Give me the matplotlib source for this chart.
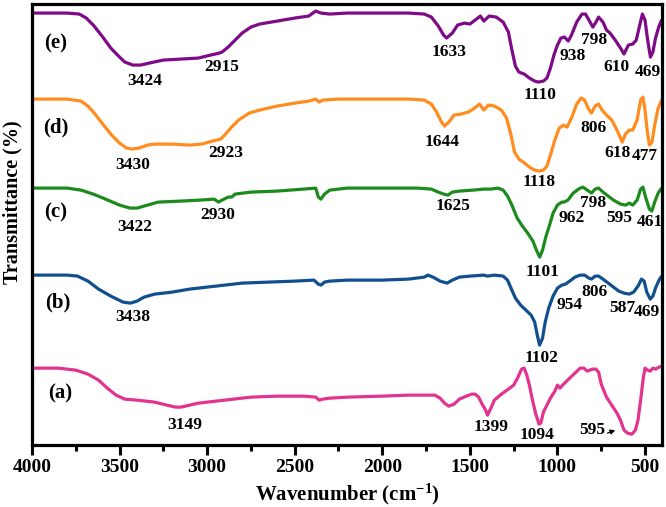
import matplotlib
matplotlib.use("Agg")
import matplotlib.pyplot as plt
from matplotlib.ticker import MultipleLocator

plt.rcParams['font.family'] = ['Liberation Serif', 'DejaVu Serif']
plt.rcParams['font.weight'] = 'bold'
plt.rcParams['mathtext.fontset'] = 'custom'
plt.rcParams['mathtext.rm'] = 'Liberation Serif:bold'
plt.rcParams['mathtext.bf'] = 'Liberation Serif:bold'
plt.rcParams['mathtext.default'] = 'bf'

# ---- spectra (wavenumber, transmittance a.u., already stacked) ----
wn_e = [4000, 3800, 3730, 3690, 3650, 3600, 3550, 3500, 3470, 3424, 3380, 3330, 3250, 3150, 3050, 2980,
        2930, 2915, 2880, 2840, 2800, 2750, 2700, 2600, 2500, 2420, 2380, 2350, 2300, 2200, 2000, 1850,
        1760, 1720, 1680, 1650, 1633, 1600, 1570, 1530, 1500, 1470, 1440, 1420, 1390, 1350, 1310, 1280,
        1260, 1240, 1220, 1190, 1160, 1130, 1110, 1080, 1060, 1040, 1020, 1000, 980, 960, 938, 920, 890,
        860, 840, 820, 798, 780, 765, 740, 720, 700, 670, 640, 620, 595, 570, 550, 530, 515, 500, 485,
        469, 455, 440, 420, 405]
t_e = [437, 437, 436, 432, 425, 414, 402, 393, 388, 385, 385, 387, 390, 391, 392, 395,
       397, 398, 403, 410, 417, 423, 426, 429, 432, 434, 439, 437, 436, 437, 437, 437,
       436, 433, 424, 415, 412, 417, 425, 427, 426, 430, 434, 429, 434, 433, 428, 418,
       400, 384, 378, 376, 372, 369, 368, 369, 372, 382, 395, 405, 412, 413, 409, 415, 428,
       436, 436, 430, 423, 428, 433, 428, 420, 417, 410, 402, 396, 405, 406, 410, 425, 436, 430, 410,
       393, 398, 412, 424, 430]

wn_d = [4000, 3800, 3720, 3680, 3640, 3600, 3550, 3500, 3460, 3430, 3390, 3340, 3300, 3200, 3100, 3030,
        2970, 2923, 2900, 2860, 2820, 2760, 2700, 2600, 2500, 2420, 2380, 2360, 2340, 2250, 2000, 1850,
        1760, 1720, 1690, 1665, 1644, 1620, 1590, 1550, 1510, 1480, 1445, 1420, 1395, 1360, 1320, 1290,
        1265, 1245, 1220, 1195, 1160, 1130, 1105, 1080, 1060, 1040, 1015, 990, 965, 945, 920, 890, 865,
        845, 825, 806, 785, 765, 745, 720, 690, 660, 630, 612, 590, 570, 545, 525, 512, 500, 488, 475,
        460, 445, 425, 405]
t_d = [351, 351, 349, 344, 336, 327, 316, 307, 302, 301, 302, 305, 306, 306, 305, 306,
       309, 311, 315, 323, 330, 337, 340, 344, 347, 349, 351, 348, 350, 351, 351, 351,
       350, 346, 338, 329, 324, 328, 335, 336, 338, 341, 346, 340, 345, 344, 340, 332,
       315, 298, 291, 288, 283, 280, 279, 280, 284, 295, 310, 322, 325, 323, 332, 346, 352,
       350, 342, 337, 344, 346, 340, 335, 330, 320, 308, 316, 320, 320, 330, 350, 353, 340, 320, 305,
       308, 325, 342, 350]

wn_c = [4000, 3800, 3720, 3650, 3580, 3500, 3440, 3400, 3340, 3280, 3150, 3040, 2960, 2935, 2915, 2880,
        2860, 2840, 2750, 2600, 2450, 2380, 2365, 2350, 2330, 2300, 2200, 2000, 1800, 1720, 1680, 1650,
        1625, 1600, 1560, 1480, 1420, 1380, 1340, 1310, 1285, 1260, 1230, 1200, 1170, 1140, 1120, 1101,
        1085, 1065, 1045, 1025, 1000, 975, 962, 940, 910, 880, 855, 830, 805, 785, 765, 740, 710, 680,
        640, 610, 590, 570, 545, 525, 512, 495, 475, 461, 445, 425, 405]
t_c = [262, 262, 260, 256, 251, 245, 242, 242, 245, 248, 249, 250, 251, 248, 250, 253,
       253, 256, 258, 259, 261, 262, 253, 251, 256, 260, 262, 262, 262, 261, 258, 256,
       255, 258, 259, 260, 261, 261, 262, 260, 254, 245, 232, 224, 217, 209, 200, 193,
       200, 214, 225, 237, 245, 248, 248, 250, 257, 261, 263, 260, 257, 261, 262, 258, 254, 250,
       246, 245, 247, 245, 250, 261, 263, 252, 241, 239, 248, 257, 262]

wn_b = [4000, 3800, 3740, 3680, 3620, 3550, 3480, 3438, 3400, 3360, 3300, 3200, 3100, 3000, 2900, 2800,
        2650, 2500, 2390, 2365, 2350, 2330, 2300, 2200, 2000, 1850, 1760, 1740, 1710, 1670, 1630, 1600,
        1560, 1500, 1420, 1400, 1360, 1310, 1285, 1265, 1240, 1210, 1180, 1150, 1130, 1115, 1102, 1085,
        1070, 1050, 1025, 1000, 975, 954, 930, 900, 870, 845, 820, 806, 785, 765, 740, 710, 680, 650,
        620, 590, 565, 540, 520, 505, 490, 470, 455, 440, 420, 405]
t_b = [175, 175, 174, 169, 161, 154, 148, 147, 149, 153, 156, 158, 161, 163, 165, 167,
       168, 169, 170, 166, 165, 168, 169, 170, 170, 171, 173, 175, 173, 169, 167, 170,
       173, 174, 175, 174, 175, 174, 170, 162, 152, 145, 140, 135, 128, 115, 105, 112,
       128, 142, 154, 162, 165, 166, 169, 173, 175, 175, 172, 171, 174, 174, 171, 167, 163, 159,
       157, 156, 158, 164, 171, 169, 158, 151, 154, 162, 170, 174]

wn_a = [4000, 3850, 3750, 3680, 3620, 3570, 3520, 3470, 3400, 3300, 3230, 3180, 3149, 3100, 3050, 2950,
        2850, 2750, 2600, 2450, 2380, 2360, 2340, 2300, 2200, 2000, 1850, 1760, 1700, 1670, 1645, 1620,
        1590, 1560, 1520, 1490, 1470, 1450, 1430, 1410, 1399, 1380, 1360, 1320, 1280, 1250, 1225, 1205,
        1190, 1175, 1160, 1145, 1125, 1105, 1095, 1080, 1060, 1040, 1015, 1000, 985, 965, 930, 900, 870,
        850, 830, 800, 780, 765, 750, 720, 690, 660, 640, 620, 600, 575, 555, 540, 525, 510, 500, 485,
        470, 455, 440, 420, 405]
t_a = [82, 82, 80, 76, 70, 62, 55, 51, 50, 48, 45, 43, 43, 45, 47, 49,
       51, 53, 54, 54, 53, 50, 51, 52, 53, 54, 55, 55, 55, 52, 47, 44,
       46, 51, 54, 56, 56, 53, 46, 40, 35, 42, 50, 56, 61, 65, 73, 81,
       82, 75, 65, 52, 37, 26, 27, 38, 45, 52, 59, 65, 62, 66, 72, 77, 82,
       82, 79, 81, 81, 78, 66, 53, 45, 37, 30, 20, 17, 16, 20, 30, 50, 72, 82, 80,
       79, 82, 81, 83, 84]

colors = ['#E2338F', '#124F8E', '#1D8A1D', '#FF8C1F', '#7E0A88']
series = [(wn_a, t_a), (wn_b, t_b), (wn_c, t_c), (wn_d, t_d), (wn_e, t_e)]

# curve names (wavenumber, y)
names = ['(a)', '(b)', '(c)', '(d)', '(e)']
name_x = [3840, 3852, 3863, 3863, 3863]
name_y = [57, 148, 238, 323, 407]

# peak annotations: text, wavenumber, y
peak_txt = ['3424', '2915', '1633', '1110', '938', '798', '610', '469',
            '3430', '2923', '1644', '1118', '806', '618', '477',
            '3422', '2930', '1625', '1101', '962', '798', '595', '461',
            '3438', '954', '806', '587', '469', '1102',
            '3149', '1399', '1094', '595']
peak_x = [3355, 2915, 1620, 1100, 912, 792, 661, 484,
          3424, 2893, 1660, 1106, 792, 655, 501,
          3412, 2938, 1597, 1083, 918, 798, 649, 472,
          3424, 929, 786, 632, 490, 1089,
          3127, 1380, 1117, 804]
peak_y = [369, 383, 398, 355, 394, 410, 383, 378,
          285, 297, 308, 268, 322, 297, 294,
          223, 235, 244, 178, 232, 247, 232, 228,
          133, 145, 158, 142, 138, 92,
          25, 23, 15, 20]

fig = plt.figure(figsize=(6.66, 5.07), dpi=100)
ax = fig.add_axes([0.048, 0.122, 0.946, 0.870])

for (wn, t), c in zip(series, colors):
    ax.plot(wn, t, color=c, lw=2.3, solid_joinstyle='round', solid_capstyle='round')

for s, x, y in zip(names, name_x, name_y):
    ax.text(x, y, s, fontsize=15, fontweight='bold', ha='center', va='center')

for s, x, y in zip(peak_txt, peak_x, peak_y):
    ax.text(x, y, s, fontsize=12.5, fontweight='bold', ha='center', va='center', clip_on=False)

ax.annotate('', xy=(655, 21), xytext=(729, 16),
            arrowprops=dict(arrowstyle='-|>', color='black', lw=0.9, mutation_scale=7))

ax.set_xlim(4000, 403)
ax.set_ylim(5, 446)
ax.xaxis.set_major_locator(MultipleLocator(500))
ax.xaxis.set_minor_locator(MultipleLocator(250))
ax.set_yticks([])
ax.tick_params(axis='x', which='major', direction='out', length=7, width=2.2, labelsize=14, pad=3)
ax.tick_params(axis='x', which='minor', direction='out', length=4, width=2.2)
for lab in ax.get_xticklabels():
    lab.set_fontweight('bold')
for sp in ax.spines.values():
    sp.set_linewidth(2.3)

ax.set_xlabel(r'Wavenumber (cm$^{-1}$)', fontsize=15, fontweight='bold', labelpad=4)
ax.set_ylabel('Transmittance (%)', fontsize=14.5, fontweight='bold')
ax.yaxis.set_label_coords(-0.015, 0.55)

fig.savefig('out.png', dpi=100)
